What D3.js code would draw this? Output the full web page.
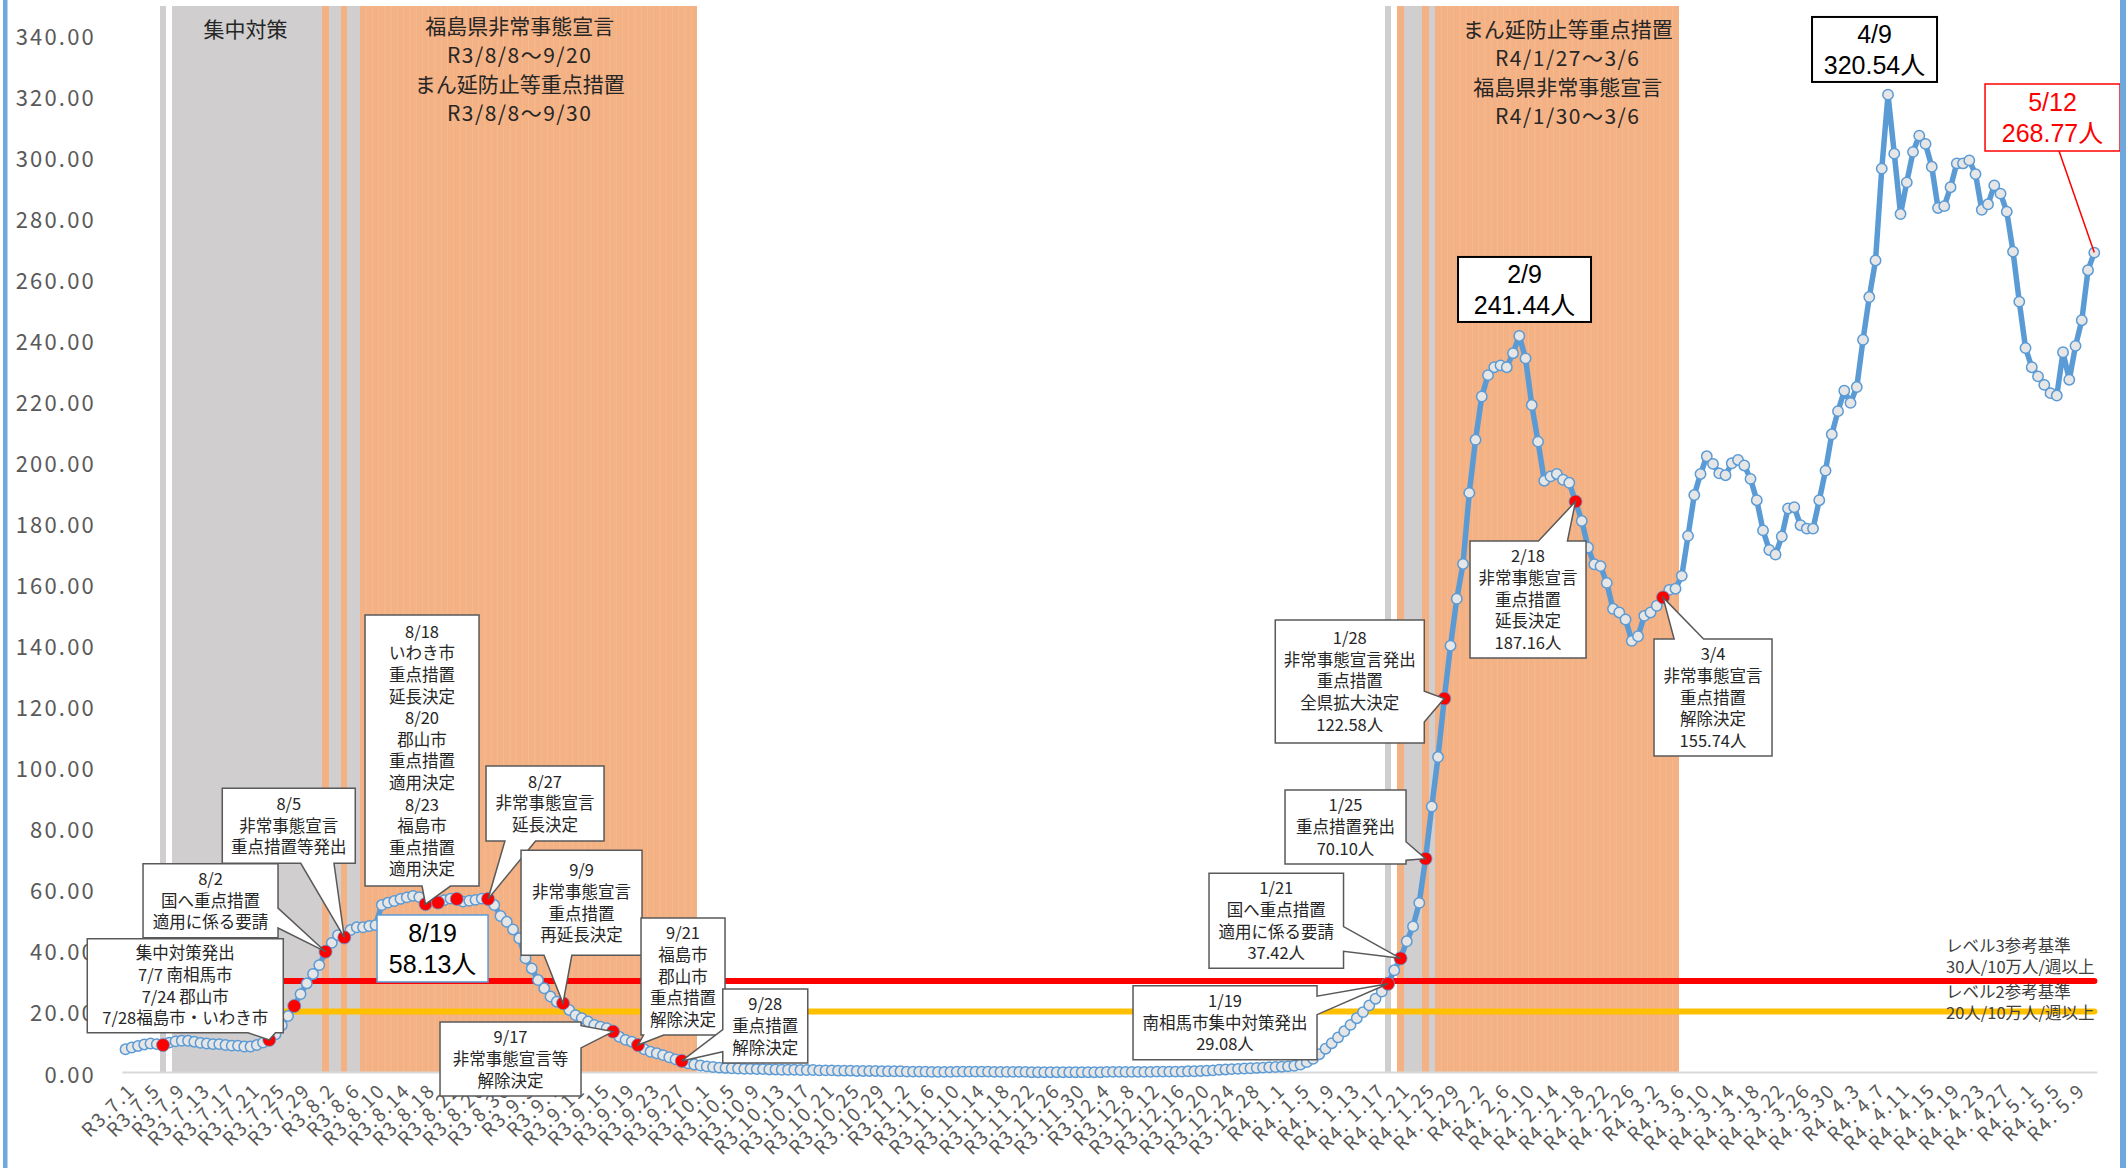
<!DOCTYPE html>
<html><head><meta charset="utf-8">
<script src="https://cdn.jsdelivr.net/npm/d3@7"></script>
<style>
html,body{margin:0;padding:0;background:#fff;}
svg{display:block;font-family:"Noto Sans CJK JP","Noto Sans",sans-serif;}
</style></head><body>
<svg id="chart" width="2126" height="1168"></svg>
<script>
// ---------------- DATA ----------------
const startDate = "2021-07-01";
// 7-day new cases per 100k (daily points), by month
const values_2021_07 = [7.6,8.2,8.7,9.2,9.5,9.3,9.0,9.8,10.2,10.4,10.4,10.1,9.7,9.5,9.3,9.3,9.0,8.8,8.8,8.5,8.5,9.0,9.8,10.7,12.5,15.5,18.5,21.8,25.7,29.2,32.3];
const values_2021_08 = [35.2,39.6,42.5,45.0,44.3,46.7,47.6,47.6,48.0,48.3,54.9,55.7,56.2,56.9,57.4,57.9,57.5,55.2,58.13,55.7,56.5,57.0,56.9,56.0,56.3,56.6,57.0,56.9,54.9,51.3,49.4];
const values_2021_09 = [46.9,44.0,37.4,34.1,30.3,27.6,24.9,23.2,22.7,20.5,18.8,17.8,16.7,15.6,15.0,14.5,13.4,11.7,10.7,10.1,9.0,7.6,6.8,6.3,5.7,5.0,4.3,3.8,3.0,2.6];
const values_2021_10 = [2.3,2.0,1.8,1.6,1.5,1.4,1.3,1.2,1.2,1.1,1.1,1.0,1.0,0.9,0.9,0.9,0.8,0.8,0.8,0.7,0.7,0.7,0.6,0.6,0.6,0.5,0.5,0.5,0.5,0.4,0.4];
const values_2021_11 = [0.4,0.4,0.3,0.3,0.3,0.3,0.2,0.2,0.2,0.2,0.3,0.3,0.3,0.3,0.3,0.3,0.2,0.2,0.2,0.2,0.2,0.2,0.1,0.1,0.1,0.1,0.1,0.1,0.1,0.1];
const values_2021_12 = [0.1,0.1,0.1,0.1,0.2,0.2,0.2,0.2,0.2,0.2,0.2,0.2,0.3,0.3,0.3,0.3,0.3,0.4,0.4,0.5,0.6,0.7,0.9,1.0,1.1,1.2,1.3,1.4,1.5,1.6,1.7];
const values_2022_01 = [1.8,1.9,2.0,2.2,2.6,3.4,4.5,6.0,7.8,9.6,11.5,13.5,15.6,17.8,19.8,22.0,24.2,26.5,29.08,33.5,37.42,43.0,47.9,55.6,70.10,87.2,103.4,122.58,139.9,155.3,166.7];
const values_2022_02 = [190.0,207.4,221.6,228.6,231.2,231.8,231.2,235.8,241.44,234.1,218.8,206.8,194.0,195.4,196.2,194.3,193.3,187.16,180.8,172.1,166.6,166.0,160.5,152.0,150.8,148.5,141.5,143.0];
const values_2022_03 = [149.7,150.8,153.0,155.74,158.2,158.6,162.8,175.9,189.3,196.2,202.0,199.5,196.4,195.8,199.7,200.8,199.0,194.6,187.6,177.7,171.3,169.8,175.7,184.9,185.3,179.4,178.3,178.3,187.6,197.3,209.2];
const values_2022_04 = [216.8,223.5,219.5,224.7,240.2,254.2,266.2,296.3,320.54,301.2,281.4,291.8,301.8,307.1,304.4,296.9,283.4,284.0,290.2,298.0,298.0,299.0,294.5,282.8,284.6,290.8,288.1,282.2,269.1,252.7];
const values_2022_05 = [237.5,231.2,228.2,225.4,222.7,221.9,236.1,227.1,238.2,246.6,263.0,268.77];

const yTicks = [0,20,40,60,80,100,120,140,160,180,200,220,240,260,280,300,320,340];
const level3Value = 30;
const level2Value = 20;
const level3Text = ["レベル3参考基準","30人/10万人/週以上"];
const level2Text = ["レベル2参考基準","20人/10万人/週以上"];

// measure periods (shaded day bars)
const shuchuRanges = [["2021-07-07","2021-07-07"],["2021-07-09","2021-08-01"],["2021-08-03","2021-08-04"],["2021-08-06","2021-08-07"],
                      ["2022-01-19","2022-01-19"],["2022-01-22","2022-01-24"],["2022-01-26","2022-01-26"]];
const juutenRanges = [["2021-08-02","2021-08-02"],["2021-08-05","2021-08-05"],["2021-08-08","2021-09-30"],
                      ["2022-01-21","2022-01-21"],["2022-01-25","2022-01-25"],["2022-01-27","2022-03-06"]];
const periodTitles = [
  {range:["2021-07-09","2021-08-01"], lines:["集中対策"]},
  {range:["2021-08-08","2021-09-30"], lines:["福島県非常事態宣言","R3/8/8～9/20","まん延防止等重点措置","R3/8/8～9/30"]},
  {range:["2022-01-27","2022-03-06"], lines:["まん延防止等重点措置","R4/1/27～3/6","福島県非常事態宣言","R4/1/30～3/6"]}
];

const highlightDates = ["2021-07-07","2021-07-24","2021-07-28","2021-08-02","2021-08-05","2021-08-18","2021-08-20","2021-08-23","2021-08-28",
  "2021-09-09","2021-09-17","2021-09-21","2021-09-28","2022-01-19","2022-01-21","2022-01-25","2022-01-28","2022-02-18","2022-03-04"];

const calloutTexts = {
  "2021-07-24":["集中対策発出","7/7 南相馬市","7/24 郡山市","7/28福島市・いわき市"],
  "2021-08-02":["8/2","国へ重点措置","適用に係る要請"],
  "2021-08-05":["8/5","非常事態宣言","重点措置等発出"],
  "2021-08-18":["8/18","いわき市","重点措置","延長決定","8/20","郡山市","重点措置","適用決定","8/23","福島市","重点措置","適用決定"],
  "2021-08-28":["8/27","非常事態宣言","延長決定"],
  "2021-09-09":["9/9","非常事態宣言","重点措置","再延長決定"],
  "2021-09-17":["9/17","非常事態宣言等","解除決定"],
  "2021-09-21":["9/21","福島市","郡山市","重点措置","解除決定"],
  "2021-09-28":["9/28","重点措置","解除決定"],
  "2022-01-19":["1/19","南相馬市集中対策発出","29.08人"],
  "2022-01-21":["1/21","国へ重点措置","適用に係る要請","37.42人"],
  "2022-01-25":["1/25","重点措置発出","70.10人"],
  "2022-01-28":["1/28","非常事態宣言発出","重点措置","全県拡大決定","122.58人"],
  "2022-02-18":["2/18","非常事態宣言","重点措置","延長決定","187.16人"],
  "2022-03-04":["3/4","非常事態宣言","重点措置","解除決定","155.74人"]
};
const peakTexts = {
  "2021-08-19":["8/19","58.13人"],
  "2022-02-09":["2/9","241.44人"],
  "2022-04-09":["4/9","320.54人"],
  "2022-05-12":["5/12","268.77人"]
};

// ---------------- LAYOUT ----------------
const W = 2126, H = 1168;
const plotLeft = 122.4, bandW = 6.25, plotTop = 6, yBottom = 1072.5, yTopTick = 35.3;
const C = {gray:"#D0CECE", orange:"#F4B183", blue:"#5B9BD5", marker:"#E7E6E6", red:"#FF0000", yellow:"#FFC000", axisText:"#595959", text:"#262626"};

const calloutLayout = {
  "2021-07-24":{dx:-182,dy:-101,w:196,h:94,side:"bottom",a:0.82,b:0.96},
  "2021-08-02":{dx:-182.5,dy:-88,w:135,h:74,side:"right",a:0.6,b:0.87},
  "2021-08-05":{dx:-122,dy:-149,w:133,h:75,side:"bottom",a:0.59,b:0.84},
  "2021-08-18":{dx:-60.5,dy:-289,w:114,h:271,side:"bottom",a:0.5,b:0.75},
  "2021-08-28":{dx:-2,dy:-133,w:118,h:75,side:"bottom",a:0.16,b:0.42},
  "2021-09-09":{dx:-42,dy:-153,w:121,h:105,side:"bottom",a:0.19,b:0.42},
  "2021-09-17":{dx:-173,dy:-9.6,w:141,h:74,side:"right",a:0.05,b:0.35},
  "2021-09-21":{dx:3,dy:-127,w:84,h:117,side:"bottom",a:0.03,b:0.27},
  "2021-09-28":{dx:41,dy:-72,w:85,h:74,side:"left",a:0.55,b:0.85},
  "2022-01-19":{dx:-255,dy:2,w:184,h:74,side:"right",a:0.14,b:0.39},
  "2022-01-21":{dx:-191.5,dy:-85,w:134.5,h:95,side:"right",a:0.56,b:0.82},
  "2022-01-25":{dx:-140.5,dy:-68.7,w:121,h:74,side:"right",a:0.7,b:0.95},
  "2022-01-28":{dx:-169,dy:-78.6,w:149,h:123,side:"right",a:0.58,b:0.83},
  "2022-02-18":{dx:-105.5,dy:39.5,w:116,h:117,side:"top",a:0.59,b:0.84},
  "2022-03-04":{dx:-9,dy:41.6,w:118,h:117,side:"top",a:0.17,b:0.42}
};
const peakLayout = {
  "2021-08-19":{dx:-54.75,dy:19.8,w:111,h:67,stroke:C.blue,color:"#000",sw:1.5},
  "2022-02-09":{dx:-61.25,dy:-79,w:133,h:65,stroke:"#000",color:"#000",sw:2},
  "2022-04-09":{dx:-76,dy:-77.7,w:125,h:65,stroke:"#000",color:"#000",sw:2},
  "2022-05-12":{dx:-109.25,dy:-168.6,w:135,h:67,stroke:C.red,color:C.red,sw:1.5,connector:74}
};
const titleLayout = [{dx:-2, y0:28.3, lh:29},{dx:-9, y0:25, lh:29},{dx:11, y0:28.3, lh:29}];

// ---------------- BUILD ----------------
const parse = d3.utcParse("%Y-%m-%d");
const fmt = d3.utcFormat("%Y-%m-%d");
const values = [].concat(values_2021_07,values_2021_08,values_2021_09,values_2021_10,values_2021_11,values_2021_12,
                         values_2022_01,values_2022_02,values_2022_03,values_2022_04,values_2022_05);
const start = parse(startDate);
const dates = values.map((v,i)=>d3.utcDay.offset(start,i));
const keys = dates.map(fmt);
const idx = k => keys.indexOf(k);
const n = values.length;

const x = d3.scaleBand().domain(d3.range(n)).range([plotLeft, plotLeft + n*bandW]).paddingInner(0).paddingOuter(0);
const cx = i => x(i) + x.bandwidth()/2;
const y = d3.scaleLinear().domain([0,340]).range([yBottom, yTopTick]);

const svg = d3.select("#chart");
svg.append("rect").attr("width",W).attr("height",H).attr("fill","#fff");

// shaded day bars
const dayType = new Array(n).fill(null);
function mark(ranges,t){ ranges.forEach(r=>{ for(let i=idx(r[0]); i<=idx(r[1]); i++) dayType[i]=t; }); }
mark(shuchuRanges,"gray"); mark(juutenRanges,"orange");
const gBars = svg.append("g");
gBars.selectAll("rect.bar").data(d3.range(n).filter(i=>dayType[i]))
  .join("rect").attr("class","bar")
  .attr("x",i=>x(i)).attr("width",x.bandwidth())
  .attr("y",plotTop).attr("height",yBottom-plotTop)
  .attr("fill",i=>dayType[i]==="gray"?C.gray:C.orange)
  .attr("shape-rendering","crispEdges");
gBars.selectAll("line.sep").data(d3.range(1,n).filter(i=>dayType[i]==="orange" && dayType[i-1]==="orange"))
  .join("line").attr("class","sep")
  .attr("x1",i=>x(i)).attr("x2",i=>x(i)).attr("y1",plotTop).attr("y2",yBottom)
  .attr("stroke","#fff").attr("stroke-opacity",0.22).attr("stroke-width",0.6);

// period titles
periodTitles.forEach((p,k)=>{
  const i0 = idx(p.range[0]), i1 = idx(p.range[1]);
  const mid = (x(i0) + x(i1) + x.bandwidth())/2 + titleLayout[k].dx;
  p.lines.forEach((t,j)=>{
    svg.append("text").attr("x",mid).attr("y",titleLayout[k].y0 + j*titleLayout[k].lh)
      .attr("text-anchor","middle").attr("dominant-baseline","central")
      .attr("font-size",21).attr("fill",C.text)
      .attr("letter-spacing", /^R\d/.test(t) ? 1.5 : 0)
      .text(t);
  });
});

// axis baseline
svg.append("line").attr("x1",plotLeft).attr("x2",plotLeft+n*bandW).attr("y1",yBottom).attr("y2",yBottom)
  .attr("stroke","#D9D9D9").attr("stroke-width",2);

// y tick labels
svg.append("g").selectAll("text").data(yTicks).join("text")
  .attr("x",96).attr("y",d=>y(d)).attr("text-anchor","end").attr("dominant-baseline","central")
  .attr("font-size",22).attr("letter-spacing",2.2).attr("fill",C.axisText)
  .text(d=>d3.format(".2f")(d));

// x tick labels every 4 days
const xLabel = d => {
  const yr = d.getUTCFullYear(), era = yr - 2018;
  return "R" + era + "." + (era>=4 ? " " : "") + (d.getUTCMonth()+1) + "." + d.getUTCDate();
};
svg.append("g").selectAll("text").data(d3.range(0,n,4)).join("text")
  .attr("transform",i=>`translate(${cx(i)+5},${yBottom+13}) rotate(-45)`)
  .attr("text-anchor","end").attr("dominant-baseline","central")
  .attr("font-size",19).attr("letter-spacing",2).attr("fill",C.axisText)
  .text(i=>xLabel(dates[i]));

// reference lines
[[level3Value,C.red],[level2Value,C.yellow]].forEach(([v,c])=>{
  svg.append("line").attr("x1",plotLeft).attr("x2",plotLeft+n*bandW-3).attr("y1",y(v)).attr("y2",y(v))
    .attr("stroke",c).attr("stroke-width",6).attr("stroke-linecap","round");
});

// series line + markers
svg.append("path").datum(values)
  .attr("d", d3.line().x((d,i)=>cx(i)).y(d=>y(d)))
  .attr("fill","none").attr("stroke",C.blue).attr("stroke-width",5.5).attr("stroke-linejoin","round");
svg.append("g").selectAll("circle").data(d3.range(n)).join("circle")
  .attr("cx",i=>cx(i)).attr("cy",i=>y(values[i])).attr("r",5.2)
  .attr("fill",C.marker).attr("stroke",C.blue).attr("stroke-width",1.5);
svg.append("g").selectAll("circle").data(highlightDates.map(idx)).join("circle")
  .attr("cx",i=>cx(i)).attr("cy",i=>y(values[i])).attr("r",6.5)
  .attr("fill",C.red).attr("stroke",C.blue).attr("stroke-width",0.8);

// reference labels
function refLabel(lines, yv, offs){
  const t = svg.append("text").attr("font-size",16.5).attr("fill","#404040");
  lines.forEach((s,j)=>t.append("tspan").attr("x",1946).attr("y",y(yv)+offs[j]+6).text(s));
}
refLabel(level3Text, level3Value, [-35.3,-14.3]);
refLabel(level2Text, level2Value, [-19.2,1.8]);

// callouts
function calloutPath(bx,by,w,h,side,a,b,tx,ty){
  const L=bx,R=bx+w,T=by,B=by+h;
  const p=[];
  if(side==="top") p.push([L,T],[L+w*a,T],[tx,ty],[L+w*b,T],[R,T],[R,B],[L,B]);
  else if(side==="right") p.push([L,T],[R,T],[R,T+h*a],[tx,ty],[R,T+h*b],[R,B],[L,B]);
  else if(side==="bottom") p.push([L,T],[R,T],[R,B],[L+w*b,B],[tx,ty],[L+w*a,B],[L,B]);
  else p.push([L,T],[R,T],[R,B],[L,B],[L,T+h*b],[tx,ty],[L,T+h*a]);
  return "M"+p.map(q=>q.join(",")).join("L")+"Z";
}
const gC = svg.append("g");
Object.keys(calloutTexts).forEach(k=>{
  const i = idx(k), L = calloutLayout[k];
  const ax = cx(i), ay = y(values[i]);
  const bx = ax + L.dx, by = ay + L.dy;
  gC.append("path").attr("d",calloutPath(bx,by,L.w,L.h,L.side,L.a,L.b,ax,ay))
    .attr("fill","#fff").attr("stroke","#595959").attr("stroke-width",1.5).attr("stroke-linejoin","miter");
  const lines = calloutTexts[k], lh = 21.6;
  const t = gC.append("text").attr("text-anchor","middle").attr("font-size",16.5).attr("fill",C.text);
  lines.forEach((s,j)=>t.append("tspan").attr("x",bx+L.w/2)
    .attr("y",by+L.h/2-(lines.length-1)*lh/2+j*lh+6).text(s));
});

// peak labels (Latin-metric font for digits keeps the two lines' boxes apart)
Object.keys(peakTexts).forEach(k=>{
  const i = idx(k), L = peakLayout[k];
  const ax = cx(i), ay = y(values[i]);
  const bx = ax + L.dx, by = ay + L.dy;
  if(L.connector){
    svg.append("line").attr("x1",bx+L.connector).attr("y1",by+L.h).attr("x2",ax).attr("y2",ay)
      .attr("stroke",L.stroke).attr("stroke-width",1.5);
  }
  svg.append("rect").attr("x",bx).attr("y",by).attr("width",L.w).attr("height",L.h)
    .attr("fill","#fff").attr("stroke",L.stroke).attr("stroke-width",L.sw);
  const lines = peakTexts[k], lh = 30.5;
  lines.forEach((s,j)=>svg.append("text").attr("x",bx+L.w/2)
    .attr("y",by+L.h/2-(lines.length-1)*lh/2+j*lh+9)
    .attr("text-anchor","middle").attr("font-size",25).attr("fill",L.color)
    .style("font-family",'"Liberation Sans","Noto Sans CJK JP",sans-serif')
    .text(s));
});

// frame edges
svg.append("rect").attr("x",3).attr("y",0).attr("width",4.5).attr("height",H).attr("fill","#6FA8DC");
svg.append("rect").attr("x",2120).attr("y",0).attr("width",6).attr("height",H).attr("fill","#6FA8DC");
</script>
</body></html>
